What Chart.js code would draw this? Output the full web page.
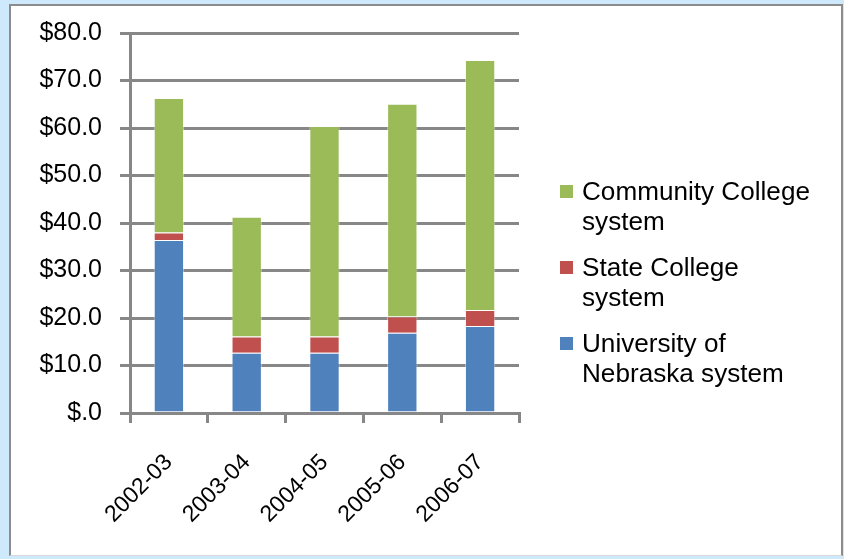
<!DOCTYPE html>
<html>
<head>
<meta charset="utf-8">
<script src="https://cdn.jsdelivr.net/npm/chart.js@4"></script>
<style>
  body { margin: 0; background: #cde9fb; width: 844px; height: 559px; overflow: hidden; }
  #frame {
    position: absolute; left: 9px; top: 4px; width: 830px; height: 549px;
    background: #fff;
    border-left: 2px solid #8c8c8c; border-top: 2px solid #8c8c8c; border-right: 2px solid #8c8c8c;
    border-bottom: 1px solid #d8d8d8;
  }
  #chart { position: absolute; left: 0; top: 0; }
</style>
</head>
<body>
<div id="frame"></div>
<canvas id="chart" width="844" height="559"></canvas>
<script>
// fiscal years on the x axis
var years = ['2002-03', '2003-04', '2004-05', '2005-06', '2006-07'];

// funding in millions of dollars, stacked bottom to top
var university = [36.4, 12.7, 12.7, 16.9, 18.3];
var stateCollege = [1.6, 3.4, 3.4, 3.4, 3.4];
var communityCollege = [28.3, 25.2, 44.3, 44.8, 52.6];

var seriesNames = ['University of\nNebraska system', 'State College\nsystem', 'Community College\nsystem'];
var seriesColors = ['#4f81bd', '#c0504d', '#9bbb59'];

var yTicks = [0, 10, 20, 30, 40, 50, 60, 70, 80];

var fontFamily = '"Liberation Sans", Arial, sans-serif';
var gridGray = '#878787';

function moneyLabel(v) {
    // Excel style: zero shows as "$.0"
    return v === 0 ? '$.0' : '$' + v.toFixed(1);
}

// legend drawn by hand so the names can wrap on two lines
var sideLegend = {
    id: 'sideLegend',
    afterDraw: function (chart) {
        var ctx = chart.ctx;
        var sets = chart.data.datasets;
        ctx.save();
        ctx.font = '25px ' + fontFamily;
        ctx.textBaseline = 'middle';
        var y = 193;
        for (var i = sets.length - 1; i >= 0; i--) {
            var lines = sets[i].label.split('\n');
            ctx.fillStyle = sets[i].backgroundColor;
            ctx.fillRect(560, y - 8, 13, 13);
            ctx.fillStyle = '#000';
            for (var j = 0; j < lines.length; j++) {
                // text is a little wide in the original layout
                ctx.save();
                ctx.translate(582, y + j * 30);
                ctx.scale(1.045, 1);
                ctx.fillText(lines[j], 0, 0);
                ctx.restore();
            }
            y += 76;
        }
        ctx.restore();
    }
};

var datasets = [university, stateCollege, communityCollege].map(function (values, i) {
    return {
        label: seriesNames[i],
        data: values,
        backgroundColor: seriesColors[i],
        borderColor: 'rgba(255,255,255,0.45)',
        borderWidth: 1,
        barPercentage: 0.39,
        categoryPercentage: 1
    };
});

var ctx = document.getElementById('chart').getContext('2d');
var myChart = new Chart(ctx, {
    type: 'bar',
    data: { labels: years, datasets: datasets },
    options: {
        responsive: false,
        animation: false,
        devicePixelRatio: 1,
        layout: { padding: { top: 33, right: 325, bottom: 0, left: 0 } },
        plugins: {
            legend: { display: false },
            tooltip: { enabled: false }
        },
        scales: {
            x: {
                stacked: true,
                offset: true,
                grid: { offset: true, drawOnChartArea: false, drawTicks: true, tickLength: 10, color: gridGray, lineWidth: 3 },
                border: { display: true, color: gridGray, width: 3 },
                ticks: {
                    maxRotation: 45, minRotation: 45, padding: 26,
                    color: '#000', font: { family: fontFamily, size: 23 }
                },
                afterFit: function (scale) { scale.height = 146; }
            },
            y: {
                stacked: true,
                min: yTicks[0],
                max: yTicks[yTicks.length - 1],
                afterBuildTicks: function (scale) {
                    scale.ticks = yTicks.map(function (v) { return { value: v }; });
                },
                grid: { color: gridGray, lineWidth: 3, tickLength: 10 },
                border: { display: true, color: gridGray, width: 3 },
                ticks: {
                    padding: 18, color: '#000',
                    font: { family: fontFamily, size: 25 },
                    callback: function (v) { return moneyLabel(v); }
                },
                afterFit: function (scale) { scale.width = 130; }
            }
        }
    },
    plugins: [sideLegend]
});
</script>
</body>
</html>
